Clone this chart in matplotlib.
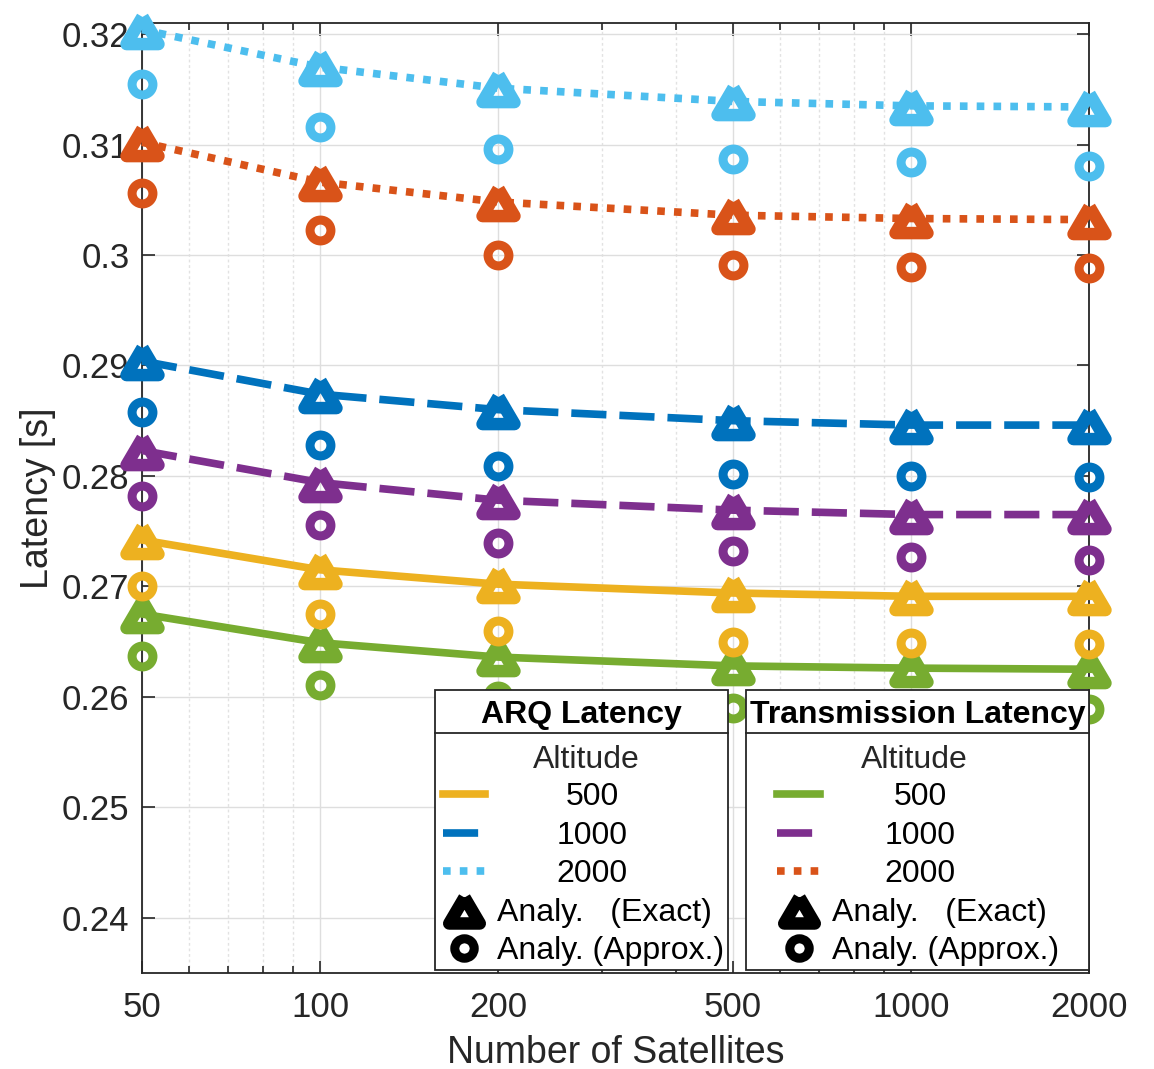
import matplotlib
matplotlib.use('Agg')
import matplotlib.pyplot as plt
from matplotlib.patches import Rectangle
from matplotlib.ticker import FixedLocator, NullFormatter, FuncFormatter

plt.rcParams['font.family'] = ['Liberation Sans', 'DejaVu Sans']

# ---------------- data ----------------
n_sats = [50, 100, 200, 500, 1000, 2000]
x_ticks = [50, 100, 200, 500, 1000, 2000]
y_ticks = [0.24, 0.25, 0.26, 0.27, 0.28, 0.29, 0.30, 0.31, 0.32]

arq_500_exact = [0.2742, 0.2715, 0.2702, 0.2694, 0.2691, 0.2691]
arq_500_approx = [0.2700, 0.2675, 0.2660, 0.2650, 0.2649, 0.2648]
arq_1000_exact = [0.2904, 0.2874, 0.2860, 0.2850, 0.2846, 0.2846]
arq_1000_approx = [0.2858, 0.2828, 0.2809, 0.2802, 0.2800, 0.2799]
arq_2000_exact = [0.3204, 0.3170, 0.3151, 0.3139, 0.3135, 0.3134]
arq_2000_approx = [0.3155, 0.3116, 0.3096, 0.3087, 0.3084, 0.3081]

tx_500_exact = [0.2675, 0.2649, 0.2636, 0.2628, 0.2626, 0.2625]
tx_500_approx = [0.2637, 0.2611, 0.2601, 0.2590, 0.2588, 0.2589]
tx_1000_exact = [0.2823, 0.2794, 0.2778, 0.2769, 0.2765, 0.2765]
tx_1000_approx = [0.2782, 0.2756, 0.2739, 0.2732, 0.2727, 0.2724]
tx_2000_exact = [0.3102, 0.3066, 0.3048, 0.3036, 0.3033, 0.3032]
tx_2000_approx = [0.3056, 0.3023, 0.3000, 0.2991, 0.2989, 0.2988]

altitudes = ['500', '1000', '2000']

# ---------------- styles ----------------
C_BLUE = (0.0, 0.447, 0.741)
C_ORANGE = (0.85, 0.325, 0.098)
C_YELLOW = (0.929, 0.694, 0.125)
C_PURPLE = (0.494, 0.184, 0.556)
C_GREEN = (0.466, 0.674, 0.188)
C_LBLUE = (0.301, 0.745, 0.933)
TXT = '#262626'

LW = 5.5
DASH = (0, (4.6, 1.7))
DOT = (0, (1.0, 1.2))
styles = {'500': '-', '1000': DASH, '2000': DOT}

arq_exact = {'500': arq_500_exact, '1000': arq_1000_exact, '2000': arq_2000_exact}
arq_approx = {'500': arq_500_approx, '1000': arq_1000_approx, '2000': arq_2000_approx}
tx_exact = {'500': tx_500_exact, '1000': tx_1000_exact, '2000': tx_2000_exact}
tx_approx = {'500': tx_500_approx, '1000': tx_1000_approx, '2000': tx_2000_approx}
arq_col = {'500': C_YELLOW, '1000': C_BLUE, '2000': C_LBLUE}
tx_col = {'500': C_GREEN, '1000': C_PURPLE, '2000': C_ORANGE}

W, H = 1154, 1069
fig = plt.figure(figsize=(W / 100, H / 100), dpi=100)
ax = fig.add_axes([142 / W, 96 / H, 947 / W, 950 / H])

TRI_VERTS = [(0, 0.85), (-1, -0.85), (1, -0.85), (0, 0.85)]
TRI = dict(marker=TRI_VERTS, markersize=23, markeredgewidth=9, markerfacecolor='none')
CIR = dict(marker='o', markersize=15, markeredgewidth=6.5, markerfacecolor='none')

for ex, ap, col in [(tx_exact, tx_approx, tx_col), (arq_exact, arq_approx, arq_col)]:
    for alt in altitudes:
        c = col[alt]
        ax.plot(n_sats, ex[alt], color=c, lw=LW, linestyle=styles[alt],
                dash_capstyle='butt', clip_on=False, zorder=3)
        ax.plot(n_sats, ex[alt], linestyle='none', color=c,
                markeredgecolor=c, clip_on=False, zorder=4, **TRI)
        ax.plot(n_sats, ap[alt], linestyle='none', color=c,
                markeredgecolor=c, clip_on=False, zorder=4, **CIR)

ax.set_xscale('log')
ax.set_xlim(50, 2000)
ax.set_ylim(0.235, 0.321)
ax.xaxis.set_major_locator(FixedLocator(x_ticks))
ax.xaxis.set_major_formatter(FuncFormatter(lambda v, p: '%d' % round(v)))
minor = [60, 70, 80, 90, 300, 400, 600, 700, 800, 900]
ax.xaxis.set_minor_locator(FixedLocator(minor))
ax.xaxis.set_minor_formatter(NullFormatter())
ax.yaxis.set_major_locator(FixedLocator(y_ticks))
ax.yaxis.set_major_formatter(FuncFormatter(lambda v, p: ('%.2f' % v).rstrip('0').rstrip('.')))

ax.tick_params(which='both', direction='in', top=True, right=True,
               colors=TXT, labelsize=25, width=1.2)
ax.tick_params(which='major', length=9)
ax.tick_params(axis='x', which='major', pad=13)
ax.tick_params(axis='y', which='major', pad=9)
ax.tick_params(which='minor', length=5)
ax.grid(True, which='major', color='#dedede', lw=1.0, zorder=0)
ax.grid(True, which='minor', axis='x', color='#e2e2e2', lw=1.0, linestyle=(0, (2, 2)), zorder=0)
ax.set_axisbelow(True)
for s in ax.spines.values():
    s.set_color(TXT)
    s.set_linewidth(1.3)

ax.set_xlabel('Number of Satellites', fontsize=27, color=TXT, labelpad=8)
ax.set_ylabel('Latency [s]', fontsize=27, color=TXT, labelpad=4)

# ---------------- legends (drawn in pixel coordinates) ----------------
ov = fig.add_axes([0, 0, 1, 1])
ov.set_xlim(0, W)
ov.set_ylim(H, 0)
ov.axis('off')

LFS = 23
LTRI = dict(TRI, markersize=22)
LCIR = dict(CIR, markersize=14)


def draw_legend(left, right, top, sep, bottom, title, cols, line_x0, line_x1,
                label_cx, mark_x, text_x):
    ov.add_patch(Rectangle((left, top), right - left, bottom - top,
                           facecolor='white', edgecolor=TXT, lw=1.3, zorder=5))
    ov.plot([left, right], [sep, sep], color=TXT, lw=1.3, zorder=6)
    ov.text((left + right) / 2, (top + sep) / 2 + 3, title, fontsize=LFS,
            fontweight='bold', ha='center', va='center', color='black', zorder=7)
    ov.text(label_cx - 6, 760, 'Altitude', fontsize=LFS, ha='center',
            va='center', color=TXT, zorder=7)
    rows = [797, 836, 874]
    for alt, y in zip(altitudes, rows):
        ov.plot([line_x0, line_x1], [y - 3, y - 3], color=cols[alt], lw=LW,
                linestyle=styles[alt], dash_capstyle='butt', zorder=7)
        ov.text(label_cx, y, alt, fontsize=LFS, ha='center', va='center',
                color='black', zorder=7)
    ov.plot([mark_x], [910], color='black', linestyle='none', zorder=7,
            markeredgecolor='black', **LTRI)
    ov.plot([mark_x], [948], color='black', linestyle='none', zorder=7,
            markeredgecolor='black', **LCIR)
    ov.text(text_x, 913, 'Analy.   (Exact)', fontsize=LFS, ha='left',
            va='center', color='black', zorder=7)
    ov.text(text_x, 951, 'Analy. (Approx.)', fontsize=LFS, ha='left',
            va='center', color='black', zorder=7)


draw_legend(435, 728, 690, 733, 970, 'ARQ Latency', arq_col, 443, 485, 592, 464, 497)
draw_legend(746, 1089, 690, 733, 970, 'Transmission Latency', tx_col, 777, 820, 920, 799, 832)

fig.savefig('out.png', dpi=100)
